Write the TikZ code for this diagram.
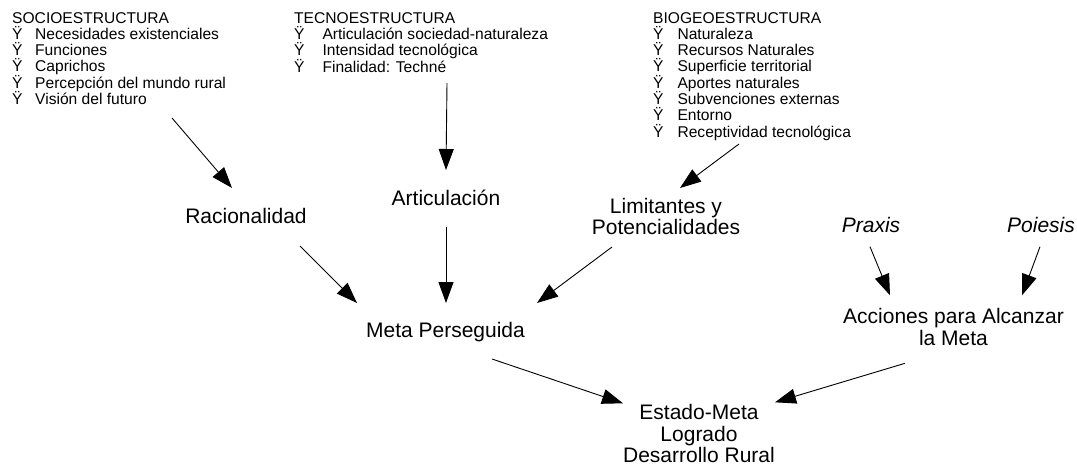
\documentclass[tikz,border=0pt]{standalone}
\usepackage{fontspec}
\setmainfont{Liberation Sans}
\usetikzlibrary{arrows.meta}
\newcommand\hdrbul[1][23pt]{\makebox[#1][l]{\smash{Ÿ}}}
\begin{document}
\begin{tikzpicture}[x=1pt,y=-1pt,
  arr/.style={draw=black, line width=0.9pt, -{Triangle[length=21pt,width=15pt]}},
  hdr/.style={anchor=base west, inner sep=0pt, font=\fontsize{15.6}{16.3}\selectfont},
  lbl/.style={anchor=base, inner sep=0pt, font=\fontsize{21}{21.7}\selectfont}]
\useasboundingbox[fill=white] (0,0) rectangle (1077,466);

% header blocks
\node[hdr] (socio) at (12,23) {\begin{tabular}[t]{@{}l@{}}SOCIOESTRUCTURA\\
\hdrbul Necesidades existenciales\\
\hdrbul Funciones\\
\hdrbul Caprichos\\
\hdrbul Percepción del mundo rural\\
\hdrbul Visión del futuro\end{tabular}};

\node[hdr] (tecno) at (294,23) {\begin{tabular}[t]{@{}l@{}}TECNOESTRUCTURA\\
\hdrbul[24pt] Articulación sociedad-naturaleza\\
\hdrbul[24pt] Intensidad tecnológica\\
\hdrbul[24pt] Finalidad: Techné\end{tabular}};

\node[hdr] (bio) at (653,23) {\begin{tabular}[t]{@{}l@{}}BIOGEOESTRUCTURA\\
\hdrbul[20pt] Naturaleza\\
\hdrbul[20pt] Recursos Naturales\\
\hdrbul[20pt] Superficie territorial\\
\hdrbul[20pt] Aportes naturales\\
\hdrbul[20pt] Subvenciones externas\\
\hdrbul[20pt] Entorno\\
\hdrbul[20pt] Receptividad tecnológica\end{tabular}};

% main labels
\node[lbl] (rac) at (246,223) {Racionalidad};
\node[lbl] (art) at (446,205) {Articulación};
\node[lbl] (lim) at (666,213) {\begin{tabular}[t]{@{}c@{}}Limitantes y\\ Potencialidades\end{tabular}};
\node[lbl] (praxis) at (871,232.7) {\itshape Praxis};
\node[lbl] (poiesis) at (1041,232.7) {\itshape Poiesis};
\node[lbl] (meta) at (445.5,337) {Meta Perseguida};
\node[lbl] (acc) at (953.5,323.3) {\begin{tabular}[t]{@{}c@{}}Acciones para Alcanzar\\ la Meta\end{tabular}};
\node[lbl] (est) at (699,419.3) {\begin{tabular}[t]{@{}c@{}}Estado-Meta\\ Logrado\\ Desarrollo Rural\end{tabular}};

% connectors
\draw[arr] ([shift={(160,95)}]socio.base west) -- ([shift={(-14,-35)}]rac.base);
\draw[arr] ([shift={(153,60)}]tecno.base west) -- ([shift={(0,-35)}]art.base);
\draw[arr] ([shift={(86,121)}]bio.base west) -- ([shift={(14,-25)}]lim.base);
\draw[arr] ([shift={(54,23)}]rac.base) -- ([shift={(-88.5,-34)}]meta.base);
\draw[arr] ([shift={(0,22)}]art.base) -- ([shift={(0.5,-34)}]meta.base);
\draw[arr] ([shift={(-54,34)}]lim.base) -- ([shift={(91.5,-34)}]meta.base);
\draw[arr] ([shift={(-1,14)}]praxis.base) -- ([shift={(-63.5,-28)}]acc.base);
\draw[arr] ([shift={(-1,14)}]poiesis.base) -- ([shift={(68.5,-28)}]acc.base);
\draw[arr] ([shift={(46.5,22)}]meta.base) -- ([shift={(-76,-16)}]est.base);
\draw[arr] ([shift={(-48.5,40)}]acc.base) -- ([shift={(76,-17)}]est.base);
\end{tikzpicture}
\end{document}
